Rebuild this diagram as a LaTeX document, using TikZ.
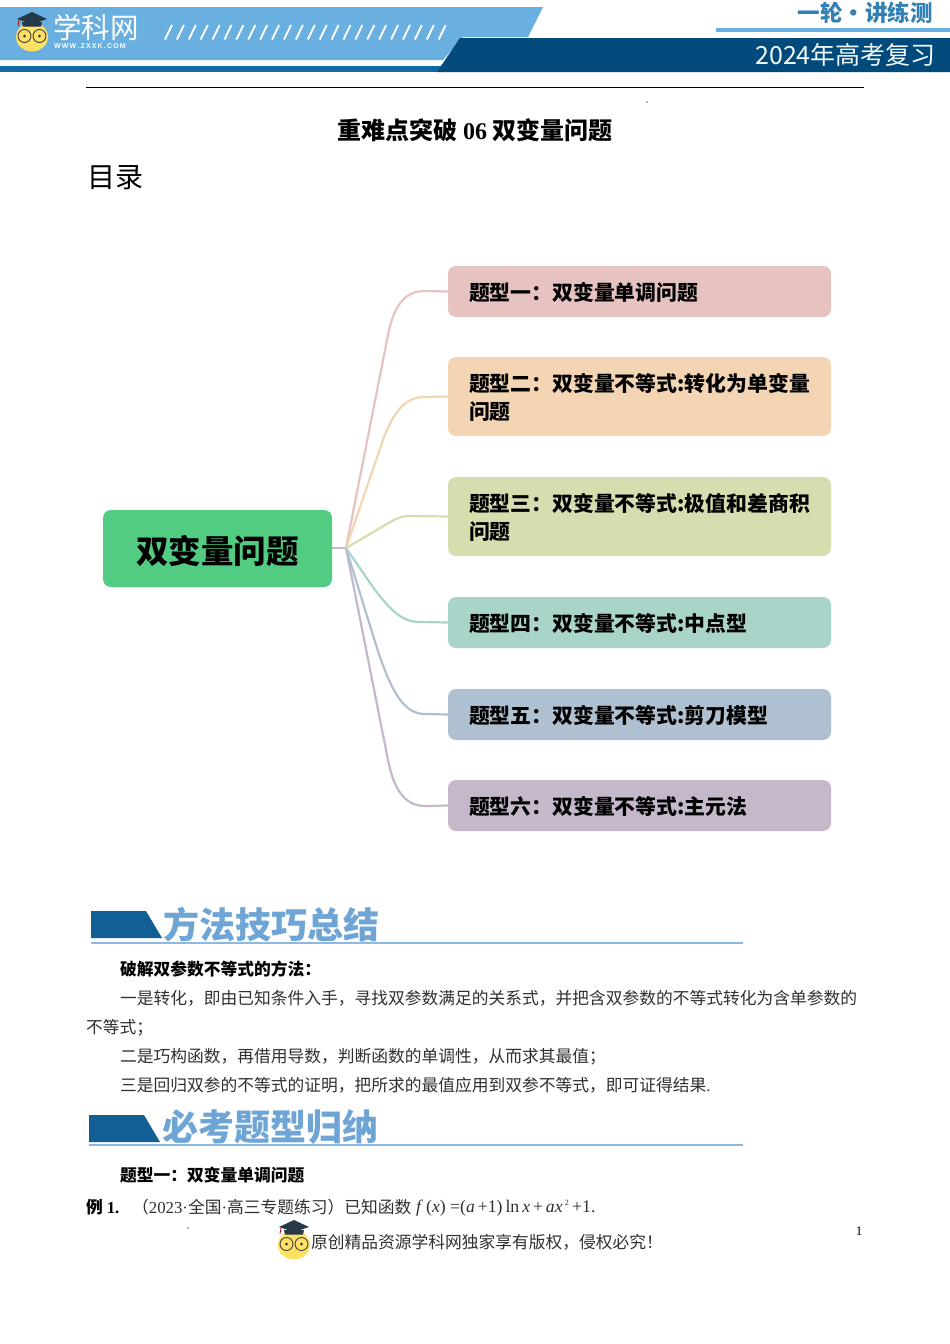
\documentclass[tikz,border=0pt]{standalone}
\usepackage{fontspec}
\setmainfont{Noto Sans CJK SC}
\newfontfamily\lat{Liberation Serif}
\newfontfamily\sanslat{Liberation Sans}
\usetikzlibrary{calc}
\newcommand{\dropby}[2]{\raisebox{-#1}[\height][\depth]{#2}}
\definecolor{lightband}{HTML}{69AFE0}
\definecolor{darkband}{HTML}{004A7C}
\definecolor{midband}{HTML}{0F6AA5}
\definecolor{rootgreen}{HTML}{52CC82}
\definecolor{tA}{HTML}{E6C3C1}
\definecolor{tB}{HTML}{F3D4B3}
\definecolor{tC}{HTML}{D6DDAE}
\definecolor{tD}{HTML}{A8D4C9}
\definecolor{tE}{HTML}{AFC0D1}
\definecolor{tF}{HTML}{C6B8CB}
\definecolor{secblue}{HTML}{6FA5D5}
\definecolor{secdark}{HTML}{115F94}
\definecolor{secline}{HTML}{8DB8DF}
\definecolor{ink}{HTML}{303030}
\definecolor{faceyellow}{HTML}{FCE164}
\definecolor{hatdark}{HTML}{24394A}
\tikzset{
  topicbox/.style={rounded corners=8pt,fill=#1,minimum width=383pt,anchor=north west,inner sep=0pt,
    text width=341pt,align=left,font=\fontsize{20.85}{27.5}\selectfont\bfseries,text=black,inner xsep=21pt,
    outer sep=0pt},
  link/.style={draw=#1,line width=2.2pt,line join=round},
  body/.style={anchor=base west,inner sep=0pt,font=\fontsize{16.75}{20}\selectfont,text=ink},
  bodybold/.style={anchor=base west,inner sep=0pt,font=\fontsize{16.75}{20}\selectfont\bfseries,text=black},
  sectitle/.style={anchor=base west,inner sep=0pt,font=\fontsize{36}{40}\selectfont\bfseries,text=secblue},
  logo/.pic={
    \fill[faceyellow] (0,0) ellipse (16 and 14.5);
    \fill[hatdark] (-10,-15) -- (10,-15) -- (9,-10.5) -- (-9,-10.5) -- cycle;
    \fill[hatdark] (-15,-18) -- (0,-25) -- (15,-18) -- (0,-13) -- cycle;
    \draw[red!70!black,line width=0.8pt] (-13,-17) -- (-14,-11);
    \draw[black!75,line width=0.9pt] (-7.5,-1) circle (6.5) (7.5,-1) circle (6.5);
    \fill[black!80] (-7.5,-1) circle (1.5) (7.5,-1) circle (1.5);
  }
}
\begin{document}
\begin{tikzpicture}[x=1pt,y=-1pt]
\useasboundingbox (0,0) rectangle (950,1344);
\fill[white] (0,0) rectangle (950,1344);
% header
\fill[lightband] (0,7) -- (543,7) -- (528,37) -- (463,37) -- (443,60) -- (0,60) -- cycle;
\fill[midband] (0,66) rectangle (445,72);
\fill[darkband] (460,38) -- (950,38) -- (950,72) -- (437,72) -- cycle;
\fill[lightband] (716,28) rectangle (950,31.5);
\foreach \i in {0,...,23}
  \draw[white,line width=1.9pt] ({165+\i*11.9},39.5) -- ({172+\i*11.9},25);
\pic at (32,37) {logo};
\node[anchor=base west,inner sep=0,text=white,font=\fontsize{28.5}{30}\selectfont] (brand) at (53,38) {学科网};
\node[anchor=base west,inner sep=0,text=white,font=\fontsize{7}{8}\sanslat\bfseries] (brandurl) at (54,48.5) {W\,W\,W\,.\,Z\,X\,X\,K\,.\,C\,O\,M};
\node[anchor=base east,inner sep=0,text=midband!85!white,font=\fontsize{22.5}{28}\selectfont\bfseries] (series) at (933,21) {一轮·讲练测};
\node[anchor=base east,inner sep=0,text=white!92!lightband,font=\fontsize{25}{28}\selectfont] (year) at (936,64) {2024年高考复习};
\draw[black,line width=1.2pt] (86,87.5) -- (864,87.5);
\fill[black!60] (647,102) circle (0.8);
% title
\node[anchor=base,inner sep=0,font=\fontsize{24}{26}\selectfont\bfseries,text=black] (title) at (475,139) {重难点突破 {\lat 06} 双变量问题};
\node[anchor=base west,inner sep=0,font=\fontsize{28}{30}\selectfont,text=black] (toc) at (87,187) {目录};
% mind map
\node[rounded corners=8pt,fill=rootgreen,minimum width=229pt,minimum height=77pt,inner sep=0,outer sep=0,
  font=\fontsize{32.5}{36}\selectfont\bfseries,text=black] (root) at (217.5,548.5) {\dropby{2pt}{双变量问题}};
\node[topicbox=tA,minimum height=51pt] (t1) at (448,266) {\dropby{1pt}{题型一：双变量单调问题}};
\node[topicbox=tB,minimum height=79pt] (t2) at (448,357) {\dropby{1pt}{题型二：双变量不等式:转化为单变量}\\\dropby{1pt}{问题}};
\node[topicbox=tC,minimum height=79pt] (t3) at (448,477) {\dropby{1pt}{题型三：双变量不等式:极值和差商积}\\\dropby{1pt}{问题}};
\node[topicbox=tD,minimum height=51pt] (t4) at (448,597) {\dropby{1pt}{题型四：双变量不等式:中点型}};
\node[topicbox=tE,minimum height=51pt] (t5) at (448,689) {\dropby{1pt}{题型五：双变量不等式:剪刀模型}};
\node[topicbox=tF,minimum height=51pt] (t6) at (448,780) {\dropby{1pt}{题型六：双变量不等式:主元法}};
\coordinate (hub) at (346,548);
\draw[link=tF] (root.east |- hub) -- (hub);
\draw[link=tA] (hub) -- (388,335) .. controls (394,305) and (405,291) .. (425,291) -- (t1.west);
\draw[link=tB] (hub) -- (384,437) .. controls (394,412) and (405,397) .. (425,397) -- (t2.west);
\draw[link=tC] (hub) -- (392,521) .. controls (398,518) and (402,516) .. (410,516) -- (t3.west);
\draw[link=tF] (hub) -- (388,760) .. controls (394,790) and (405,806) .. (425,806) -- (t6.west);
\draw[link=tE] (hub) -- (376,645) .. controls (392,695) and (405,714) .. (425,714) -- (t5.west);
\draw[link=tD] (hub) -- (375,590) .. controls (392,612) and (403,622) .. (420,622) -- (t4.west);
% section 1
\fill[secdark] (91,911) -- (146,911) -- (162,938) -- (91,938) -- cycle;
\draw[secline,line width=1.5pt] (91,943) -- (743,943);
\node[sectitle] (sec1) at (163,938) {方法技巧总结};
\node[bodybold] (l0) at (120,975) {破解双参数不等式的方法：};
\node[body] (l1) at (120,1004) {一是转化，即由已知条件入手，寻找双参数满足的关系式，并把含双参数的不等式转化为含单参数的};
\node[body] (l2) at (86,1033) {不等式；};
\node[body] (l3) at (120,1062) {二是巧构函数，再借用导数，判断函数的单调性，从而求其最值；};
\node[body] (l4) at (120,1091) {三是回归双参的不等式的证明，把所求的最值应用到双参不等式，即可证得结果{\lat .}};
% section 2
\fill[secdark] (89,1115) -- (144,1115) -- (160,1142) -- (89,1142) -- cycle;
\draw[secline,line width=1.5pt] (89,1145) -- (743,1145);
\node[sectitle] (sec2) at (162,1140) {必考题型归纳};
\node[bodybold] (l5) at (120,1181) {题型一：双变量单调问题};
\node[bodybold] (ex) at (86,1213) {例 {\lat 1.}};
\node[body] (l6) at (132,1213) {（{\lat 2023·}全国{\lat ·}高三专题练习）已知函数};
\node[body,font=\fontsize{17.7}{20}\lat] (fx) at (416,1212) {\textit{f}\,(\textit{x}) =(\textit{a}\,+1)\,ln\,\textit{x}\,+\,\textit{ax}\textsuperscript{\,\fontsize{8}{8}\selectfont 2}\,+1.};
\fill[black!60] (188,1228) circle (0.8);
% footer
\pic at (294,1245) {logo};
\node[anchor=base west,inner sep=0,font=\fontsize{16.75}{20}\selectfont,text=ink] (foot) at (311,1248) {原创精品资源学科网独家享有版权，侵权必究！};
\node[anchor=base,inner sep=0,font=\fontsize{13}{14}\lat,text=black] (pg) at (859,1235) {1};
\end{tikzpicture}
\end{document}
